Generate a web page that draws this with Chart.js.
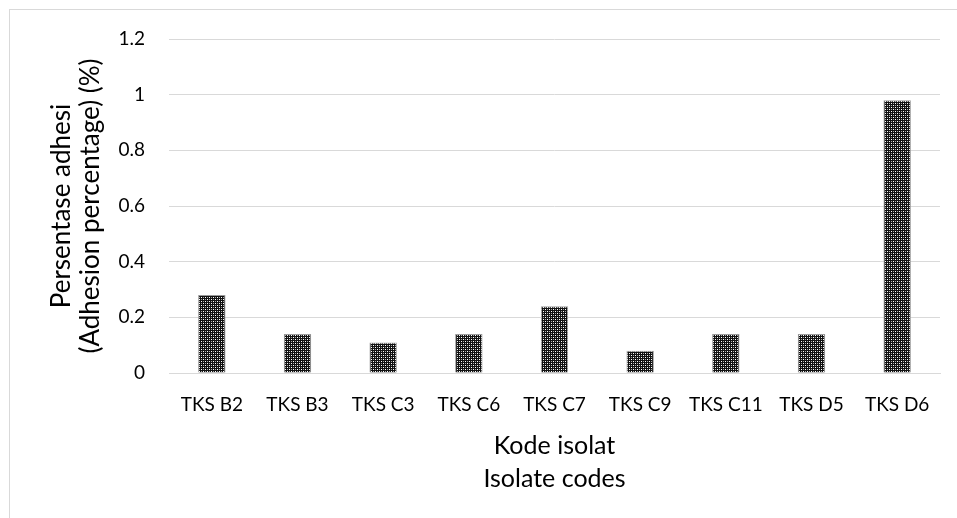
<!DOCTYPE html>
<html>
<head>
<meta charset="utf-8">
<script src="https://cdn.jsdelivr.net/npm/chart.js@4"></script>
<style>
  html, body { margin: 0; padding: 0; background: #fff; }
  #wrap { position: relative; width: 957px; height: 518px; }
  #frame { position: absolute; left: 9px; top: 9px; right: -5px; bottom: -5px; border-left: 1px solid #d9d9d9; border-top: 1px solid #d9d9d9; }
  canvas { position: absolute; left: 0; top: 0; }
</style>
</head>
<body>
<div id="wrap">
  <div id="frame"></div>
  <canvas id="adhesiChart" width="957" height="518"></canvas>
</div>
<script>
// ---- Data ----
const isolates = ['TKS B2', 'TKS B3', 'TKS C3', 'TKS C6', 'TKS C7', 'TKS C9', 'TKS C11', 'TKS D5', 'TKS D6'];
const adhesion = [0.28, 0.14, 0.11, 0.14, 0.24, 0.08, 0.14, 0.14, 0.98];
const yTitle = ['Persentase adhesi', '(Adhesion percentage) (%)'];
const xTitle = ['Kode isolat', 'Isolate codes'];

// shared look
const txt = '#000';
const gc = '#d9d9d9';
const fam = 'Lato, "Noto Sans", sans-serif';

// checkered fill like the Excel pattern
function checkerPattern() {
  const c = document.createElement('canvas');
  c.width = 4; c.height = 4;
  const g = c.getContext('2d');
  g.fillStyle = '#111';
  g.fillRect(0, 0, 4, 4);
  g.fillStyle = '#ffffff';
  g.fillRect(1, 1, 1, 1);
  g.fillRect(3, 3, 1, 1);
  g.fillStyle = '#aaaaaa';
  g.fillRect(1, 3, 1, 1);
  g.fillRect(3, 1, 1, 1);
  return document.getElementById('adhesiChart').getContext('2d').createPattern(c, 'repeat');
}

const padL = 48, padB = 23;
const ctx = document.getElementById('adhesiChart');
new Chart(ctx, {
  type: 'bar',
  data: {
    labels: isolates,
    datasets: [{
      label: 'Adhesion',
      data: adhesion,
      backgroundColor: checkerPattern(),
      borderColor: '#9a9a9a',
      borderWidth: 1,
      barPercentage: 0.64,
      categoryPercentage: 0.5
    }]
  },
  options: {
    responsive: false, animation: false,
    layout: { padding: { left: padL, right: 17, top: 39, bottom: padB } },
    plugins: { legend: { display: false }, tooltip: { enabled: false } },
    scales: {
      x: {
        grid: { display: false },
        border: { color: gc, width: 1 },
        ticks: { color: txt, font: { family: fam, size: 19 }, padding: 12, maxRotation: 0 },
        title: { display: true, text: xTitle, color: txt, font: { family: fam, size: 25, lineHeight: 1.32 }, padding: 0 },
        afterFit: (s) => { s.height = 518 - 373 - padB; }
      },
      y: {
        min: 0, max: 1.2,
        grid: { color: gc, lineWidth: 1, drawTicks: false },
        border: { display: false },
        ticks: { stepSize: 0.2, color: txt, font: { family: fam, size: 19 }, padding: 24,
                 callback: (v) => Math.round(v * 10) / 10 },
        title: { display: true, text: yTitle, color: txt, font: { family: fam, size: 26, lineHeight: 1.08 }, padding: 0 },
        afterFit: (s) => { s.width = 169 - padL; }
      }
    }
  }
});
</script>
</body>
</html>
